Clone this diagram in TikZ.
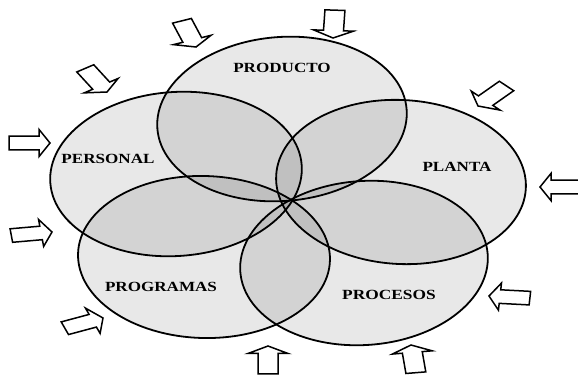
\documentclass[tikz,border=0pt]{standalone}
\usepackage{graphicx}
\usepackage{fontspec}
\setmainfont{Liberation Serif}
\begin{document}
\begin{tikzpicture}[x=1pt,y=-1pt,
  ell/.style={line width=1.8pt, fill=black, fill opacity=0.09},
  lbl/.style={font=\fontsize{14}{14}\selectfont\bfseries, inner sep=0pt},
  arrowline/.style={line width=1.5pt, fill=white, line join=miter},
  barrow/.pic={\draw[arrowline] (0,0) -- (-11,20) -- (-11,10) -- (-41,10) -- (-41,-10) -- (-11,-10) -- (-11,-20) -- cycle;}]
\useasboundingbox (0,0) rectangle (578,375);
% ellipses
\draw[ell, rotate around={4.5:(282,119)}] (282,119) ellipse [x radius=125pt, y radius=82pt];
\draw[ell, rotate around={4:(176,174)}] (176,174) ellipse [x radius=126pt, y radius=82pt];
\draw[ell, rotate around={-3:(401,182)}] (401,182) ellipse [x radius=125pt, y radius=82pt];
\draw[ell, rotate around={-1.5:(204,257)}] (204,257) ellipse [x radius=126pt, y radius=81pt];
\draw[ell, rotate around={4:(364,263)}] (364,263) ellipse [x radius=124pt, y radius=82pt];
% labels
\node[lbl] (producto) at (282,68) {\scalebox{1.22}[1]{PRODUCTO}};
\node[lbl] (personal) at (108,159) {\scalebox{1.22}[1]{PERSONAL}};
\node[lbl] (planta) at (457,167) {\scalebox{1.22}[1]{PLANTA}};
\node[lbl] (programas) at (161,287) {\scalebox{1.22}[1]{PROGRAMAS}};
\node[lbl] (procesos) at (389,295) {\scalebox{1.24}[1]{PROCESOS}};
% arrows
\pic[yscale=0.68, rotate=-70] at (196,47) {barrow};
\pic[yscale=0.68, rotate=-92.7] at (333,38) {barrow};
\pic[yscale=0.68, rotate=-58] at (107,92) {barrow};
\pic[yscale=0.68, rotate=0] at (50,143) {barrow};
\pic[yscale=0.68, rotate=7.3] at (52,232) {barrow};
\pic[yscale=0.68, rotate=21.5] at (103,318) {barrow};
\pic[yscale=0.68, rotate=90] at (268,346) {barrow};
\pic[yscale=0.68, rotate=96.8] at (411,345) {barrow};
\pic[yscale=0.68, rotate=175.6] at (489,296) {barrow};
\pic[yscale=0.68, rotate=180] at (540,187) {barrow};
\pic[yscale=0.68, rotate=225.9] at (478,106) {barrow};
\end{tikzpicture}
\end{document}
